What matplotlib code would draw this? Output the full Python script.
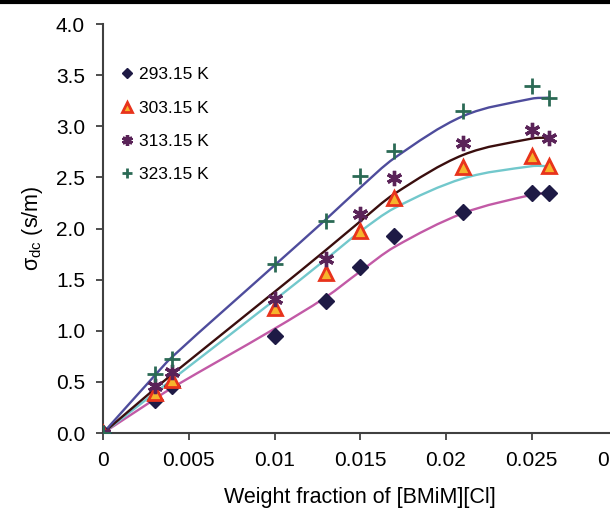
import numpy as np
import matplotlib
matplotlib.use("Agg")
import matplotlib.pyplot as plt
from matplotlib.lines import Line2D
from matplotlib.path import Path
from matplotlib.patches import PathPatch
from matplotlib.ticker import FuncFormatter, MultipleLocator

plt.rcParams['font.family'] = ['Liberation Sans', 'DejaVu Sans']
plt.rcParams['mathtext.fontset'] = 'custom'
plt.rcParams['mathtext.rm'] = 'Liberation Sans'
plt.rcParams['mathtext.it'] = 'Liberation Sans'

# weight fraction of [BMiM][Cl]
wf = [0, 0.003, 0.004, 0.01, 0.013, 0.015, 0.017, 0.021, 0.025, 0.026]

# measured conductivity (s/m) per temperature
s_293 = [0, 0.32, 0.46, 0.95, 1.29, 1.62, 1.93, 2.16, 2.35, 2.35]
s_303 = [0, 0.39, 0.52, 1.22, 1.57, 1.98, 2.30, 2.60, 2.71, 2.61]
s_313 = [0, 0.46, 0.60, 1.31, 1.70, 2.14, 2.49, 2.84, 2.96, 2.89]
s_323 = [0, 0.58, 0.72, 1.65, 2.07, 2.51, 2.76, 3.15, 3.39, 3.28]

# model (fitted) conductivity at the same fractions
m_293 = [0, 0.33, 0.44, 1.02, 1.33, 1.58, 1.82, 2.15, 2.33, 2.35]
m_303 = [0, 0.39, 0.52, 1.30, 1.70, 1.97, 2.20, 2.49, 2.61, 2.61]
m_313 = [0, 0.43, 0.57, 1.38, 1.79, 2.07, 2.34, 2.72, 2.88, 2.89]
m_323 = [0, 0.56, 0.74, 1.64, 2.09, 2.40, 2.69, 3.10, 3.27, 3.28]

labels = ['293.15 K', '303.15 K', '313.15 K', '323.15 K']


def smooth_path(xs, ys):
    # piecewise cubic bezier through the points (like a spreadsheet "smoothed line")
    xs = np.asarray(xs, float)
    ys = np.asarray(ys, float)
    n = len(xs)
    slope = np.zeros(n)
    for i in range(n):
        a = max(i - 1, 0)
        b = min(i + 1, n - 1)
        slope[i] = (ys[b] - ys[a]) / (xs[b] - xs[a])
    verts = [(xs[0], ys[0])]
    codes = [Path.MOVETO]
    for i in range(n - 1):
        h = (xs[i + 1] - xs[i]) / 3
        verts += [(xs[i] + h, ys[i] + h * slope[i]),
                  (xs[i + 1] - h, ys[i + 1] - h * slope[i + 1]),
                  (xs[i + 1], ys[i + 1])]
        codes += [Path.CURVE4] * 3
    return Path(verts, codes)


fig = plt.figure(figsize=(6.10, 5.08), dpi=100)
ax = fig.add_axes([0.169, 0.1476, 0.843, 0.805])

# top border line of the original figure
fig.add_artist(Line2D([0, 1], [0.997, 0.997], color='black', lw=3, transform=fig.transFigure))

fit_colors = ['#c25aa6', '#72c8cc', '#3a0e0e', '#4e4c9c']
for m, c in zip([m_293, m_303, m_313, m_323], fit_colors):
    ax.add_patch(PathPatch(smooth_path(wf, m), facecolor='none', edgecolor=c, lw=1.7, zorder=2))

ax.plot(wf, s_293, linestyle='none', marker='D', ms=8, color='#1e1a45', label=labels[0], zorder=3)
ax.plot(wf, s_303, linestyle='none', marker='^', ms=10, mfc='#f6b42c', mec='#e8331c', mew=2, label=labels[1], zorder=3)
ax.plot(wf, s_313, linestyle='none', marker=(6, 2, 0), ms=11, mew=2.4, color='#5a2358', label=labels[2], zorder=3)
ax.plot(wf, s_323, linestyle='none', marker='+', ms=11, mew=2, color='#2b6a55', label=labels[3], zorder=3)

ax.set_xlim(0, 0.03)
ax.set_ylim(0, 4.0)
ax.xaxis.set_major_locator(MultipleLocator(0.005))
ax.yaxis.set_major_locator(MultipleLocator(0.5))
ax.xaxis.set_major_formatter(FuncFormatter(lambda v, pos: '{:g}'.format(round(v, 4))))
ax.yaxis.set_major_formatter(FuncFormatter(lambda v, pos: '{:.1f}'.format(v)))

for side in ['top', 'right']:
    ax.spines[side].set_visible(False)
for side in ['left', 'bottom']:
    ax.spines[side].set_color('#404040')
    ax.spines[side].set_linewidth(1.5)
ax.tick_params(direction='out', length=5, width=1.3, color='#404040', labelsize=15, pad=8)

ax.set_xlabel('Weight fraction of [BMiM][Cl]', fontsize=15.5, labelpad=12)
ax.set_ylabel('\u03c3$_{\\mathrm{dc}}$ (s/m)', fontsize=15.5, labelpad=8)

ax.legend(loc='upper left', bbox_to_anchor=(0.005, 0.933), frameon=False, fontsize=12.5,
          handlelength=0.7, handletextpad=0.3, labelspacing=1.05, markerscale=0.7)

fig.savefig('out.png', dpi=100)
